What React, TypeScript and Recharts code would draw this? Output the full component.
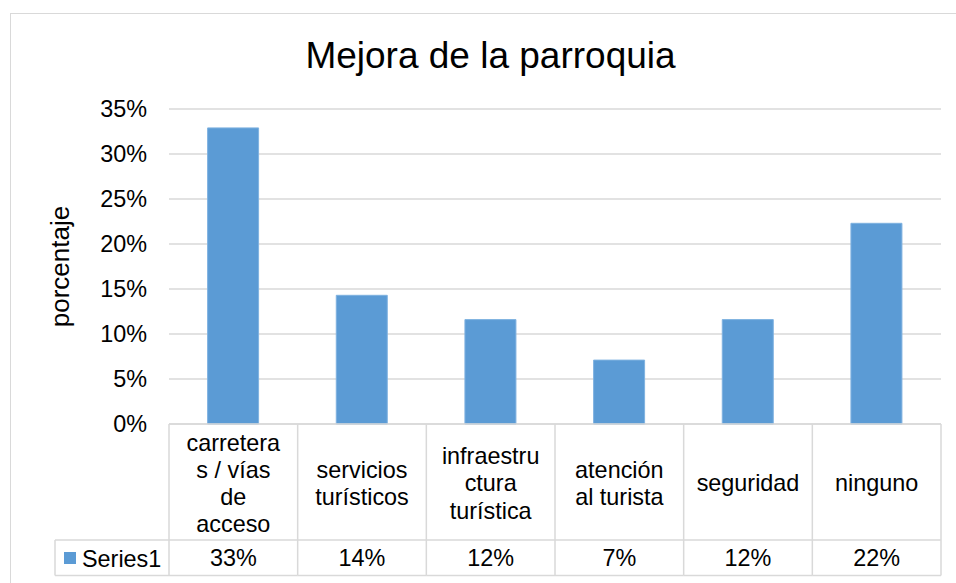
import React from "react";
import { BarChart, Bar, XAxis, YAxis, CartesianGrid } from "recharts";

const categories = [
  "carreteras / vías de acceso",
  "servicios turísticos",
  "infraestructura turística",
  "atención al turista",
  "seguridad",
  "ninguno",
];

// how Excel wrapped the labels in the data table
const categoryLines = [
  ["carretera", "s / vías", "de", "acceso"],
  ["servicios", "turísticos"],
  ["infraestru", "ctura", "turística"],
  ["atención", "al turista"],
  ["seguridad"],
  ["ninguno"],
];

const series1 = [32.9, 14.3, 11.6, 7.1, 11.6, 22.3];

const yTicks = [0, 5, 10, 15, 20, 25, 30, 35];

const seriesName = "Series1";

const W = 956;
const H = 583;
const M = { top: 109, right: 15, bottom: 0, left: 0 };
const Y_AXIS_W = 169;
const X_AXIS_H = H - 424;
const FONT = "'Liberation Sans', Arial, sans-serif";
const GRID = "#d9d9d9";
const BLUE = "#5b9bd5";

const BAND = (W - M.left - M.right - Y_AXIS_W) / categories.length;
const HEAD_H = 116;
const ROW_H = 35.5;
const KEY_W = 114;

const data = categories.map((name, i) => ({
  name,
  value: series1[i],
  lines: categoryLines[i],
}));

const pct = (v: number) => `${Math.round(v)}%`;

function TableTick(props: any) {
  const { x, y, payload } = props;
  const i = payload.index;
  const d = data[i];
  const left = x - BAND / 2;
  const right = x + BAND / 2;
  const n = d.lines.length;
  const lh = 27.2;
  const mid = y + 59;
  return (
    <g>
      <line x1={right} y1={y} x2={right} y2={y + HEAD_H + ROW_H} stroke={GRID} strokeWidth={1.5} />
      {i === 0 && (
        <g>
          <line x1={left} y1={y} x2={left} y2={y + HEAD_H + ROW_H} stroke={GRID} strokeWidth={1.5} />
          <line x1={left - KEY_W} y1={y + HEAD_H} x2={left} y2={y + HEAD_H} stroke={GRID} strokeWidth={1.5} />
          <line x1={left - KEY_W} y1={y + HEAD_H + ROW_H} x2={left} y2={y + HEAD_H + ROW_H} stroke={GRID} strokeWidth={1.5} />
          <line x1={left - KEY_W} y1={y + HEAD_H} x2={left - KEY_W} y2={y + HEAD_H + ROW_H} stroke={GRID} strokeWidth={1.5} />
          <rect x={left - KEY_W + 9} y={y + 128} width={12} height={12} fill={BLUE} />
          <text x={left - KEY_W + 27} y={y + 142.5} fontSize={23.4} fontFamily={FONT} fill="#000">
            {seriesName}
          </text>
        </g>
      )}
      <line x1={left} y1={y + HEAD_H} x2={right} y2={y + HEAD_H} stroke={GRID} strokeWidth={1.5} />
      <line x1={left} y1={y + HEAD_H + ROW_H} x2={right} y2={y + HEAD_H + ROW_H} stroke={GRID} strokeWidth={1.5} />
      {d.lines.map((t: string, k: number) => (
        <text
          key={k}
          x={x}
          y={mid - ((n - 1) / 2) * lh + k * lh + 8.3}
          textAnchor="middle"
          fontSize={23.4}
          fontFamily={FONT}
          fill="#000"
        >
          {t}
        </text>
      ))}
      <text x={x} y={y + 142.3} textAnchor="middle" fontSize={23.4} fontFamily={FONT} fill="#000">
        {pct(d.value)}
      </text>
    </g>
  );
}

export default function App() {
  return (
    <div
      style={{
        position: "absolute",
        left: 0,
        top: 0,
        width: W,
        height: H,
        overflow: "hidden",
        background: "#fff",
      }}
    >
      <div
        style={{
          position: "absolute",
          left: 10,
          top: 13,
          width: 980,
          height: 620,
          border: `1.5px solid ${GRID}`,
        }}
      />
      <svg style={{ position: "absolute", left: 0, top: 0 }} width={W} height={100}>
        <text x={490.5} y={68.3} textAnchor="middle" fontSize={37} fontFamily={FONT} fill="#000">
          Mejora de la parroquia
        </text>
      </svg>
      <div style={{ position: "absolute", left: 0, top: 0 }}>
        <BarChart width={W} height={H} data={data} margin={M} barCategoryGap="30%">
          <CartesianGrid vertical={false} stroke={GRID} strokeWidth={1.5} />
          <XAxis
            dataKey="name"
            height={X_AXIS_H}
            interval={0}
            tickLine={false}
            tickSize={0}
            tickMargin={0}
            axisLine={{ stroke: GRID, strokeWidth: 1.5 }}
            tick={<TableTick />}
          />
          <YAxis
            width={Y_AXIS_W}
            domain={[0, 35]}
            ticks={yTicks}
            tickFormatter={(v: number) => `${v}%`}
            axisLine={false}
            tickLine={false}
            tickSize={0}
            tickMargin={22}
            tick={{ fontSize: 23.4, fontFamily: FONT, fill: "#000" }}
            label={{
              value: "porcentaje",
              angle: -90,
              position: "insideLeft",
              offset: 60,
              style: { textAnchor: "middle", fontSize: 26, fontFamily: FONT, fill: "#000" },
            }}
          />
          <Bar dataKey="value" fill={BLUE} stroke="#7fb2e0" strokeWidth={1} isAnimationActive={false} />
        </BarChart>
      </div>
    </div>
  );
}
